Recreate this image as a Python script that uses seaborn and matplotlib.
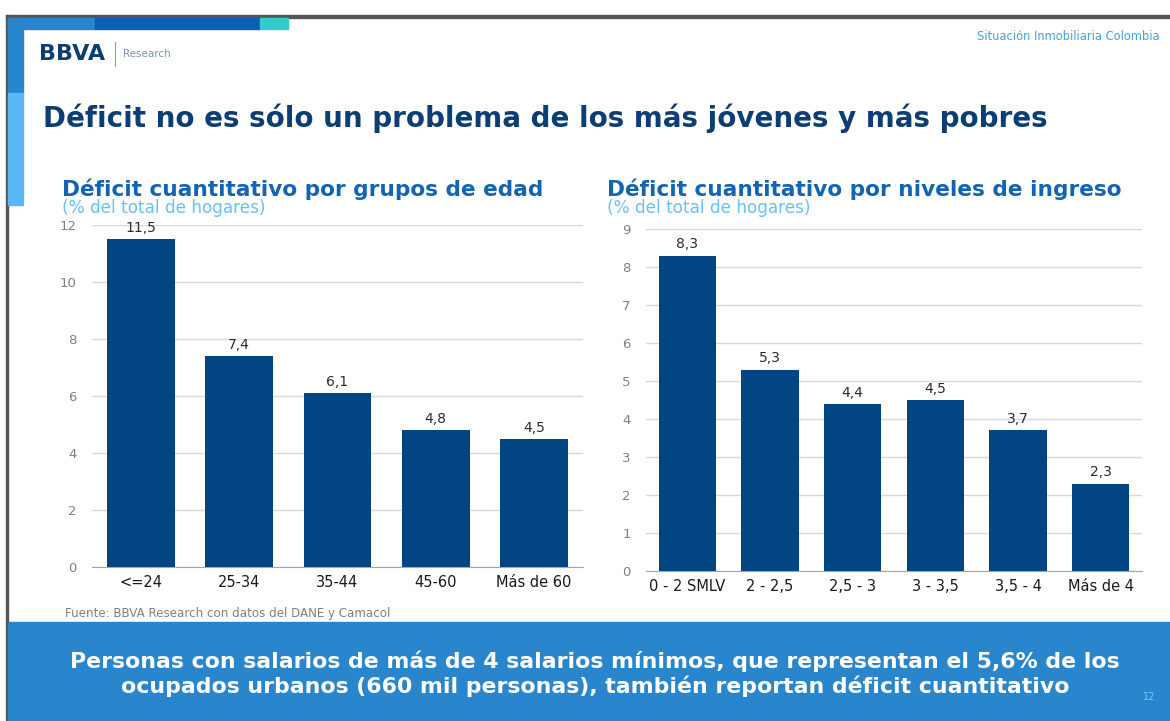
import matplotlib
matplotlib.use("Agg")
import matplotlib.pyplot as plt
import seaborn as sns
import pandas as pd
from matplotlib.patches import Rectangle
from matplotlib.lines import Line2D

# data
edad = ['<=24', '25-34', '35-44', '45-60', 'Más de 60']
edad_vals = [11.5, 7.4, 6.1, 4.8, 4.5]
ingreso = ['0 - 2 SMLV', '2 - 2,5', '2,5 - 3', '3 - 3,5', '3,5 - 4', 'Más de 4']
ingreso_vals = [8.3, 5.3, 4.4, 4.5, 3.7, 2.3]

sns.set_style("white")
plt.rcParams['font.family'] = ['DejaVu Sans']

W, H = 1170, 721
BAR = '#004481'
GRID = '#d9d9d9'
AXC = '#a6a6a6'

fig = plt.figure(figsize=(W / 100, H / 100), dpi=100)


def px(x0, y0, x1, y1):
    # pixel box (top-left origin) -> figure fraction
    return [x0 / W, 1 - y1 / H, (x1 - x0) / W, (y1 - y0) / H]


# slide frame / decorations
bg = fig.add_axes([0, 0, 1, 1])
bg.set_xlim(0, W)
bg.set_ylim(H, 0)
bg.axis('off')
bg.add_patch(Rectangle((6, 15), W, 3, color='#555555'))
bg.add_patch(Rectangle((6, 15), 2, H, color='#555555'))
bg.add_patch(Rectangle((8, 18), 87, 11, color='#2a86cc'))
bg.add_patch(Rectangle((95, 18), 165, 11, color='#0c5fb5'))
bg.add_patch(Rectangle((260, 18), 28, 11, color='#33cccc'))
bg.add_patch(Rectangle((8, 18), 15, 75, color='#2a86cc'))
bg.add_patch(Rectangle((8, 93), 15, 112, color='#5cb8f5'))
bg.add_patch(Rectangle((8, 622), W, H - 622, color='#2a86cc'))
bg.add_line(Line2D([115, 115], [42, 66], color='#8aa0bf', lw=0.8))

bg.text(39, 54, 'BBVA', fontsize=16, fontweight='bold', color='#0b3e75', va='center')
bg.text(123, 54, 'Research', fontsize=7.5, color='#7f93b5', va='center')
bg.text(1160, 36, 'Situación Inmobiliaria Colombia', fontsize=8.3, color='#4a9fe0',
        ha='right', va='center')
bg.text(43, 118, 'Déficit no es sólo un problema de los más jóvenes y más pobres',
        fontsize=20, fontweight='bold', color='#0b3e75', va='center')

bg.text(62, 189, 'Déficit cuantitativo por grupos de edad', fontsize=15.6,
        fontweight='bold', color='#1464b4', va='center')
bg.text(62, 208, '(% del total de hogares)', fontsize=12.2, color='#66c2ff', va='center')
bg.text(607, 189, 'Déficit cuantitativo por niveles de ingreso', fontsize=15.6,
        fontweight='bold', color='#1464b4', va='center')
bg.text(607, 208, '(% del total de hogares)', fontsize=12.2, color='#66c2ff', va='center')

bg.text(65, 613, 'Fuente: BBVA Research con datos del DANE y Camacol', fontsize=8.6,
        color='#808080', va='center')
bg.text(595, 674, 'Personas con salarios de más de 4 salarios mínimos, que representan el 5,6% de los\n'
        'ocupados urbanos (660 mil personas), también reportan déficit cuantitativo',
        fontsize=15.8, fontweight='bold', color='white', ha='center', va='center',
        linespacing=1.2)
bg.text(1143, 697, '12', fontsize=7, color='#7fc4f0', va='center')


def draw(ax, cats, vals, ymax, width):
    df = pd.DataFrame({'cat': cats, 'val': vals})
    sns.barplot(data=df, x='cat', y='val', ax=ax, color=BAR, saturation=1,
                width=width, edgecolor='none')
    ax.set_ylim(0, ymax)
    ax.set_xlim(-0.5, len(cats) - 0.5)
    ax.set_yticks(range(0, ymax + 1, 2 if ymax > 9 else 1))
    ax.yaxis.grid(True, color=GRID, lw=1)
    ax.set_axisbelow(True)
    for s in ['top', 'right', 'left']:
        ax.spines[s].set_visible(False)
    ax.spines['bottom'].set_color(AXC)
    ax.set_xlabel('')
    ax.set_ylabel('')
    ax.tick_params(axis='y', length=0, labelsize=9.5, labelcolor='#808080', pad=11)
    ax.tick_params(axis='x', which='major', length=0, labelsize=10.5,
                   labelcolor='#1a1a1a', pad=6)
    ax.set_xticks([i - 0.5 for i in range(len(cats) + 1)], minor=True)
    ax.tick_params(axis='x', which='minor', length=4, color=AXC, direction='out')
    for i, v in enumerate(vals):
        ax.text(i, v + ymax * 0.012, f'{v:.1f}'.replace('.', ','), ha='center',
                va='bottom', fontsize=10, color='#2b2b2b')


ax1 = fig.add_axes(px(92, 225, 583, 567))
draw(ax1, edad, edad_vals, 12, 0.69)

ax2 = fig.add_axes(px(646, 229, 1142, 571))
draw(ax2, ingreso, ingreso_vals, 9, 0.69)

fig.savefig('out.png', dpi=100)
